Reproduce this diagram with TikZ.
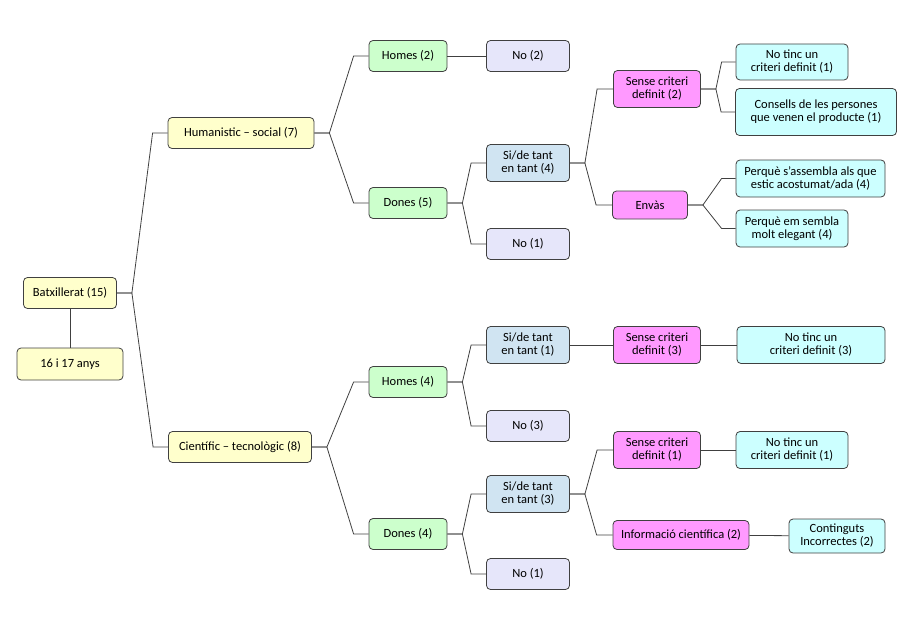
\documentclass[tikz,border=0pt]{standalone}
\usepackage{fontspec}
\setmainfont{Carlito}
\usetikzlibrary{shapes}
\definecolor{YellowBox}{HTML}{FFFFCC}
\definecolor{GreenBox}{HTML}{CCFFCC}
\definecolor{LavBox}{HTML}{E6E6FA}
\definecolor{BlueBox}{HTML}{D0E4F2}
\definecolor{PinkBox}{HTML}{FF99FF}
\definecolor{CyanBox}{HTML}{CCFFFF}
\definecolor{EdgeGray}{HTML}{404040}
\tikzstyle{BoxNode}=[rectangle, rounded corners=4pt, draw=EdgeGray, line width=0.8pt, inner sep=0pt, align=center, minimum height=31pt, font=\fontsize{12.5}{13}\selectfont]
\tikzstyle{LevelNode}=[BoxNode, fill=YellowBox]
\tikzstyle{SexNode}=[BoxNode, fill=GreenBox, minimum width=78pt]
\tikzstyle{NoNode}=[BoxNode, fill=LavBox, minimum width=83pt]
\tikzstyle{SiNode}=[BoxNode, fill=BlueBox, minimum width=83pt, minimum height=37pt]
\tikzstyle{ReasonNode}=[BoxNode, fill=PinkBox, minimum height=37pt]
\tikzstyle{DetailNode}=[BoxNode, fill=CyanBox, minimum height=37pt]
\tikzstyle{Branch}=[draw=EdgeGray, line width=0.8pt]

\begin{document}
\begin{tikzpicture}[x=1pt, y=-1pt]
\useasboundingbox (0,0) rectangle (913,642);

\node[LevelNode, minimum width=93pt](BAT) at (70,293) {Batxillerat (15)};
\node[LevelNode, minimum width=106pt, minimum height=32pt](AGE) at (70,364) {16 i 17 anys};
\node[LevelNode, minimum width=146pt](HUM) at (241,133) {Humanistic -- social (7)};
\node[LevelNode, minimum width=143pt](CIE) at (240,447) {Científic -- tecnològic (8)};

\node[SexNode](HOM2) at (408,56) {Homes (2)};
\node[SexNode](DON5) at (408,203) {Dones (5)};
\node[SexNode](HOM4) at (408,382) {Homes (4)};
\node[SexNode](DON4) at (408,534) {Dones (4)};

\node[NoNode](NO2) at (528,56) {No (2)};
\node[SiNode](SI4) at (528,163) {Si/de tant\\en tant (4)};
\node[NoNode](NO1A) at (528,244) {No (1)};
\node[SiNode](SI1) at (528,345) {Si/de tant\\en tant (1)};
\node[NoNode](NO3) at (528,426) {No (3)};
\node[SiNode](SI3) at (528,494) {Si/de tant\\en tant (3)};
\node[NoNode](NO1B) at (528,574) {No (1)};

\node[ReasonNode, minimum width=87pt](SEN2) at (657,89) {Sense criteri\\definit (2)};
\node[ReasonNode, minimum width=75pt, minimum height=28pt](ENV) at (650,205) {Envàs};
\node[ReasonNode, minimum width=87pt](SEN3) at (657,345) {Sense criteri\\definit (3)};
\node[ReasonNode, minimum width=87pt](SEN1) at (657,450) {Sense criteri\\definit (1)};
\node[ReasonNode, minimum width=136pt, minimum height=29pt](INF) at (681,535) {Informació científica (2)};

\node[DetailNode, minimum width=112pt, minimum height=36pt](TINC1A) at (792,62) {No tinc un\\criteri definit (1)};
\node[DetailNode, minimum width=161pt, minimum height=47pt](CONS) at (816,112) {Consells de les persones\\que venen el producte (1)};
\node[DetailNode, minimum width=149pt, minimum height=37pt](ASSEM) at (810.5,178.5) {Perquè s’assembla als que\\estic acostumat/ada (4)};
\node[DetailNode, minimum width=112pt](ELEG) at (792,228.5) {Perquè em sembla\\molt elegant (4)};
\node[DetailNode, minimum width=148pt](TINC3) at (811,345) {No tinc un\\criteri definit (3)};
\node[DetailNode, minimum width=112pt](TINC1B) at (792,450) {No tinc un\\criteri definit (1)};
\node[DetailNode, minimum width=96pt, minimum height=34pt](CONT) at (837,536) {Continguts\\Incorrectes (2)};

\draw[Branch](BAT) -- (AGE);
\draw[Branch](BAT.east) -- ++(15,0) -- ([xshift=-15pt]HUM.west) -- (HUM.west);
\draw[Branch](BAT.east) -- ++(15,0) -- ([xshift=-15pt]CIE.west) -- (CIE.west);

\draw[Branch](HUM.east) -- ++(15,0) -- ([xshift=-15pt]HOM2.west) -- (HOM2.west);
\draw[Branch](HUM.east) -- ++(15,0) -- ([xshift=-15pt]DON5.west) -- (DON5.west);
\draw[Branch](CIE.east) -- ++(15,0) -- ([xshift=-15pt]HOM4.west) -- (HOM4.west);
\draw[Branch](CIE.east) -- ++(15,0) -- ([xshift=-15pt]DON4.west) -- (DON4.west);

\draw[Branch](HOM2) -- (NO2);
\draw[Branch](DON5.east) -- ++(15,0) -- ([xshift=-15pt]SI4.west) -- (SI4.west);
\draw[Branch](DON5.east) -- ++(15,0) -- ([xshift=-15pt]NO1A.west) -- (NO1A.west);
\draw[Branch](HOM4.east) -- ++(15,0) -- ([xshift=-15pt]SI1.west) -- (SI1.west);
\draw[Branch](HOM4.east) -- ++(15,0) -- ([xshift=-15pt]NO3.west) -- (NO3.west);
\draw[Branch](DON4.east) -- ++(15,0) -- ([xshift=-15pt]SI3.west) -- (SI3.west);
\draw[Branch](DON4.east) -- ++(15,0) -- ([xshift=-15pt]NO1B.west) -- (NO1B.west);

\draw[Branch](SI4.east) -- ++(15,0) -- ([xshift=-16pt]SEN2.west) -- (SEN2.west);
\draw[Branch](SI4.east) -- ++(15,0) -- ([xshift=-16pt]ENV.west) -- (ENV.west);
\draw[Branch](SI1) -- (SEN3);
\draw[Branch](SEN3) -- (TINC3);
\draw[Branch](SI3.east) -- ++(15,0) -- ([xshift=-16pt]SEN1.west) -- (SEN1.west);
\draw[Branch](SI3.east) -- ++(15,0) -- ([xshift=-16pt]INF.west) -- (INF.west);

\draw[Branch](SEN2.east) -- ++(15,0) -- ([xshift=-14pt]TINC1A.west) -- (TINC1A.west);
\draw[Branch](SEN2.east) -- ++(15,0) -- ([xshift=-14pt]CONS.west) -- (CONS.west);
\draw[Branch](ENV.east) -- ++(15,0) -- ([xshift=-14pt]ASSEM.west) -- (ASSEM.west);
\draw[Branch](ENV.east) -- ++(15,0) -- ([xshift=-14pt]ELEG.west) -- (ELEG.west);
\draw[Branch](SEN1) -- (TINC1B);
\draw[Branch](INF) -- (CONT);
\end{tikzpicture}
\end{document}
